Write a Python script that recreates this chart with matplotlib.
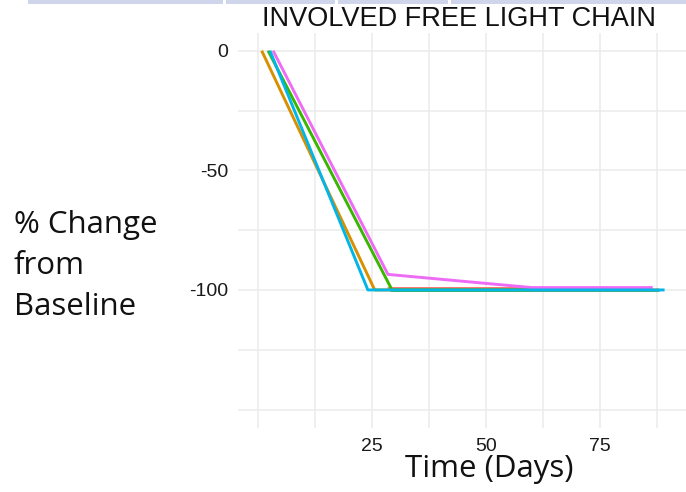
import matplotlib
matplotlib.use("Agg")
import matplotlib.pyplot as plt
from matplotlib.patches import Rectangle
from matplotlib.ticker import FixedLocator

# Percent change of involved free light chain per patient over time
orange_days = [0.8, 25.6, 88.0]
orange_pct = [0, -100, -100]
green_days = [2.2, 29.4, 60.0]
green_pct = [0, -100, -100]
salmon_days = [28.3, 60.0]
salmon_pct = [-99, -99]
teal_days = [29.0, 88.0]
teal_pct = [-100, -100]
cyan_days = [2.6, 24.1, 89.2]
cyan_pct = [0, -100, -100]
pink_days = [3.3, 28.5, 60.0, 86.6]
pink_pct = [0, -93.5, -99, -99]

x_ticks = [0, 25, 50, 75]
x_tick_labels = ["", "25", "50", "75"]
y_ticks = [0, -50, -100, -150]
y_tick_labels = ["0", "-50", "-100", ""]

series = [
    (salmon_days, salmon_pct, "#F8766D"),
    (teal_days, teal_pct, "#00BFA0"),
    (orange_days, orange_pct, "#D89000"),
    (green_days, green_pct, "#39B600"),
    (pink_days, pink_pct, "#EE6CF5"),
    (cyan_days, cyan_pct, "#00B5E8"),
]

fig = plt.figure(figsize=(6.86, 4.92), dpi=100)
ax = fig.add_axes([238 / 686, 64 / 492, 448 / 686, 395 / 492])

for days, pct, color in series:
    ax.plot(days, pct, color=color, lw=2.1, solid_capstyle="butt", zorder=3)

ax.set_xlim(-4.4, 93.9)
ax.set_ylim(-157.7, 7.4)

ax.xaxis.set_major_locator(FixedLocator(x_ticks))
ax.xaxis.set_minor_locator(FixedLocator([12.5, 37.5, 62.5, 87.5]))
ax.yaxis.set_major_locator(FixedLocator(y_ticks))
ax.yaxis.set_minor_locator(FixedLocator([-25, -75, -125]))
ax.set_xticklabels(x_tick_labels)
ax.set_yticklabels(y_tick_labels)
ax.grid(True, which="both", color="#ebebeb", lw=1.1, zorder=0)
ax.tick_params(which="both", length=0, labelsize=14, labelcolor="#1a1a1a", pad=7)
for lab in ax.get_xticklabels() + ax.get_yticklabels():
    lab.set_fontfamily("Liberation Sans")
for s in ax.spines.values():
    s.set_visible(False)

fig.text(459 / 686, 1 - 19 / 492, "INVOLVED FREE LIGHT CHAIN", ha="center", va="center",
         fontsize=19.5, family="Liberation Sans", color="#111111")
fig.text(14 / 686, 1 - 266 / 492, "% Change\nfrom\nBaseline", ha="left", va="center",
         fontsize=22.5, family="Open Sans", linespacing=1.47, color="#111111")
fig.text(489 / 686, 1 - 469 / 492, "Time (Days)", ha="center", va="center",
         fontsize=22.5, family="Open Sans", color="#111111")

# decorative header strip
for x0, x1 in [(28, 223), (226, 335), (338, 448), (451, 686)]:
    fig.patches.append(Rectangle((x0 / 686, 1 - 4 / 492), (x1 - x0) / 686, 4 / 492,
                                 transform=fig.transFigure, color="#cfd5ea", lw=0))

fig.savefig("out.png", dpi=100)
